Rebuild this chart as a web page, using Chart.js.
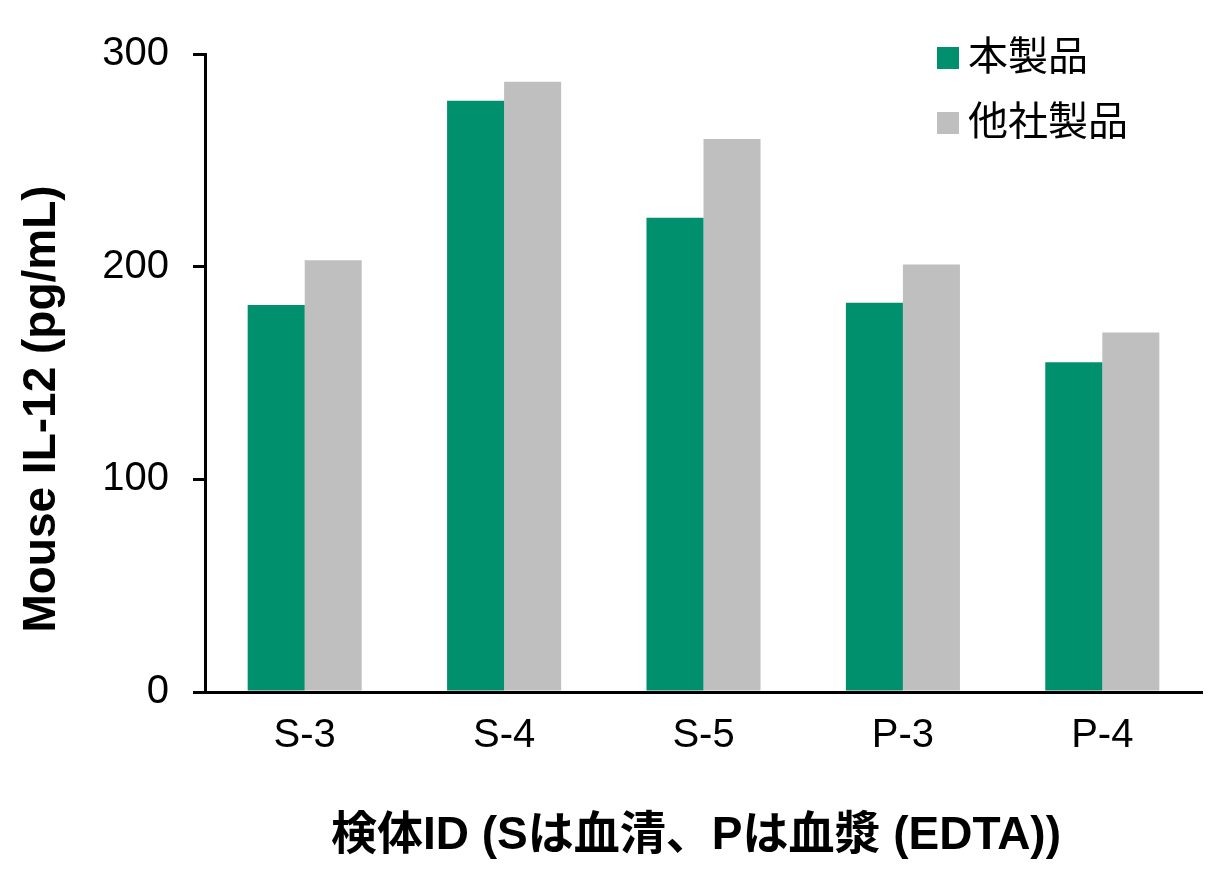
<!DOCTYPE html>
<html>
<head>
<meta charset="utf-8">
<script src="https://cdn.jsdelivr.net/npm/chart.js@4"></script>
<style>
  body { margin: 0; background: #fff; }
  #wrap { width: 1230px; height: 890px; }
</style>
</head>
<body>
<div id="wrap"><canvas id="chart"></canvas></div>
<script>
var categories = ['S-3', 'S-4', 'S-5', 'P-3', 'P-4'];
var ourProduct = [182, 278, 223, 183, 155];
var otherProduct = [203, 287, 260, 201, 169];
var seriesNames = ['本製品', '他社製品'];
var seriesColors = ['#01906e', '#bfbfbf'];
var yTicks = [0, 100, 200, 300];
var xTitle = '検体ID (Sは血清、Pは血漿 (EDTA))';
var yTitle = 'Mouse IL-12 (pg/mL)';

var latin = '"Liberation Sans", Arial, "Noto Sans CJK JP", sans-serif';

// legend and axis titles drawn by hand
var extras = {
  id: 'extras',
  afterDraw: function (chart) {
    var ctx = chart.ctx;
    ctx.save();
    chart.data.datasets.forEach(function (ds, i) {
      var y = 47 + i * 65;
      ctx.fillStyle = ds.backgroundColor;
      ctx.fillRect(937, y, 22, 22);
      ctx.fillStyle = '#000';
      ctx.font = '40px "Noto Sans CJK JP", sans-serif';
      ctx.textBaseline = 'middle';
      ctx.textAlign = 'left';
      ctx.fillText(ds.label, 968, y + 8);
    });
    ctx.font = 'bold 46px ' + latin;
    ctx.textAlign = 'center';
    ctx.textBaseline = 'middle';
    ctx.fillText(xTitle, 696, 836);
    ctx.translate(42, 409);
    ctx.rotate(-Math.PI / 2);
    ctx.fillText(yTitle, 0, 0);
    ctx.restore();
  }
};

var ctx = document.getElementById('chart').getContext('2d');
var chart = new Chart(ctx, {
  type: 'bar',
  data: {
    labels: categories,
    datasets: [{
      label: seriesNames[0],
      data: ourProduct,
      backgroundColor: seriesColors[0],
      categoryPercentage: 0.572,
      barPercentage: 1.0
    }, {
      label: seriesNames[1],
      data: otherProduct,
      backgroundColor: seriesColors[1],
      categoryPercentage: 0.572,
      barPercentage: 1.0
    }]
  },
  options: {
    responsive: true,
    maintainAspectRatio: false,
    animation: false,
    layout: { padding: { top: 54, right: 28, left: 0, bottom: 0 } },
    plugins: {
      legend: { display: false },
      tooltip: { enabled: false }
    },
    scales: {
      x: {
        grid: { display: true, drawOnChartArea: false, drawTicks: false },
        border: { display: true, color: '#000', width: 3 },
        ticks: { color: '#000', padding: 20, font: { family: latin, size: 40 } },
        afterFit: function (scale) { scale.height = 198; }
      },
      y: {
        min: 0,
        max: 300,
        afterBuildTicks: function (scale) {
          scale.ticks = yTicks.map(function (v) { return { value: v }; });
        },
        grid: { drawOnChartArea: false, drawTicks: true, tickLength: 12, color: '#000', lineWidth: 3 },
        border: { display: true, color: '#000', width: 3 },
        ticks: { color: '#000', padding: 24, font: { family: latin, size: 40 } },
        afterFit: function (scale) { scale.width = 205; }
      }
    }
  },
  plugins: [extras]
});
</script>
</body>
</html>
